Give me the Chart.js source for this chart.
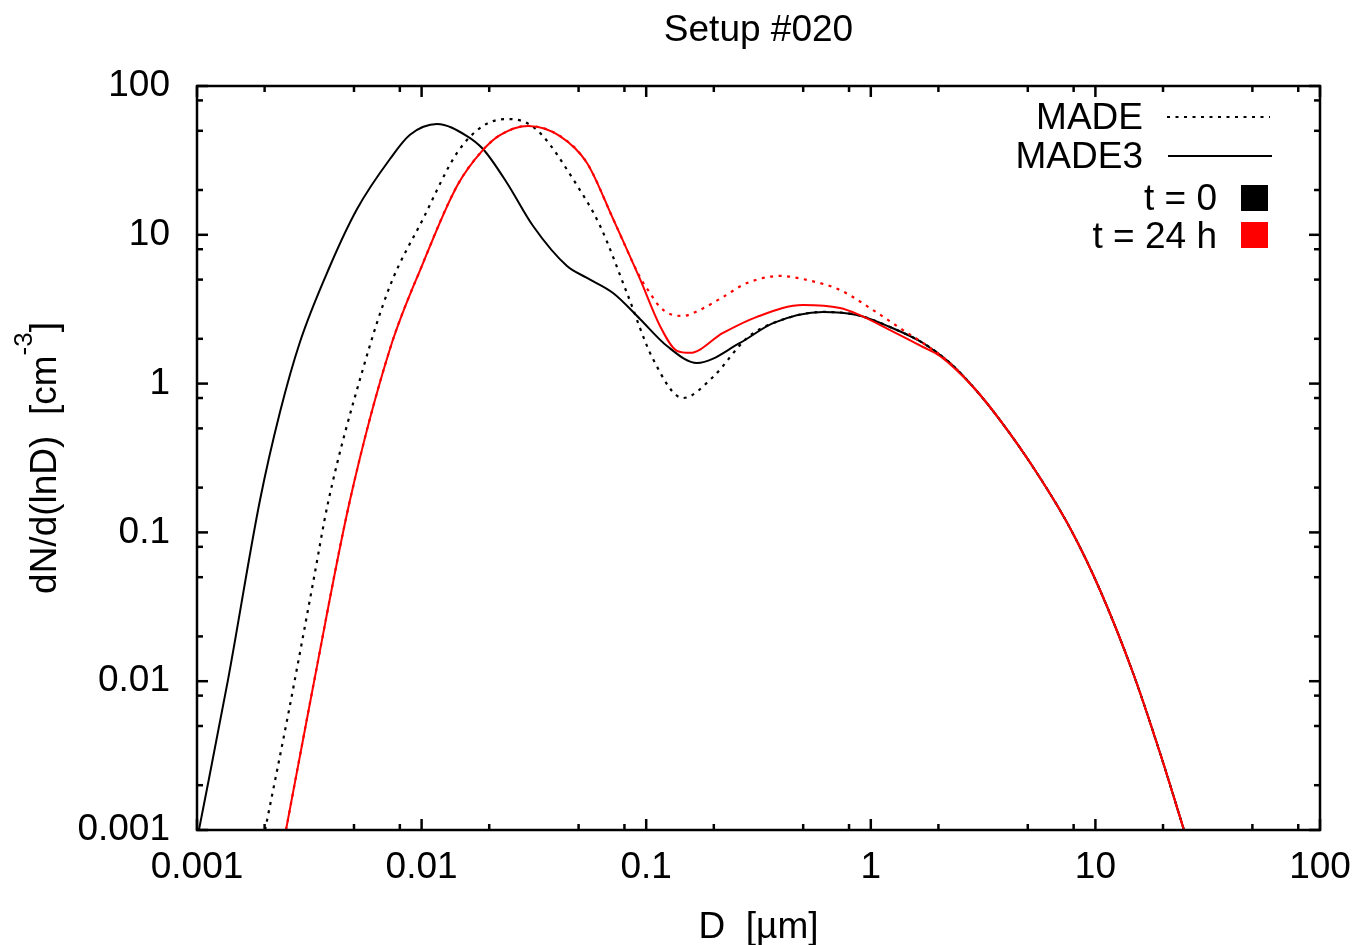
<!DOCTYPE html>
<html>
<head>
<meta charset="utf-8">
<script src="https://cdn.jsdelivr.net/npm/chart.js@4/dist/chart.umd.min.js"></script>
<style>
html,body{margin:0;padding:0;background:#fff;overflow:hidden}
#wrap{width:1362px;height:945px;position:relative}
</style>
</head>
<body>
<div id="wrap"><canvas id="c" width="1362" height="945"></canvas></div>
<script>
// ---- text ----
const titleText = 'Setup #020';
const xAxisTitle = 'D  [\u00b5m]';
const yAxisTitleMain = 'dN/d(lnD)  [cm';
const yAxisTitleSup = '-3';
const yAxisTitleEnd = ']';
const legendStyleLabels = ['MADE', 'MADE3'];
const legendColorLabels = ['t = 0', 't = 24 h'];

// ---- ticks ----
const xTickValues = [0.001, 0.01, 0.1, 1, 10, 100];
const xTickLabels = ['0.001', '0.01', '0.1', '1', '10', '100'];
const yTickValues = [0.001, 0.01, 0.1, 1, 10, 100];
const yTickLabels = ['0.001', '0.01', '0.1', '1', '10', '100'];
const minorMultipliers = [2, 5, 8];

// ---- series: MADE3, t = 0 (black solid) ----
const made3T0_D = [0.00102, 0.001374, 0.001908, 0.002342, 0.002874, 0.00391, 0.00516, 0.00723, 0.00888, 0.01171, 0.01592, 0.01877, 0.024, 0.0313, 0.0444, 0.0545, 0.0712, 0.0938, 0.1238, 0.1683, 0.2616, 0.367, 0.612, 0.868, 1.218, 1.708, 2.253, 2.91, 3.76, 5.275, 7.71, 10.48, 14.71, 19.4, 24.8];
const made3T0_N = [0.001, 0.0102, 0.165, 0.644, 1.905, 6.17, 14.9, 32.3, 47.0, 55.5, 46.1, 37.7, 22.3, 11.5, 6.17, 5.13, 4.06, 2.72, 1.79, 1.375, 1.875, 2.55, 3.03, 2.89, 2.40, 1.874, 1.375, 0.92, 0.569, 0.275, 0.107, 0.041, 0.01135, 0.00329, 0.001];

// ---- series: MADE3, t = 24 h (red solid) ----
const made3T24_D = [0.00249, 0.003285, 0.0048, 0.00723, 0.01015, 0.01438, 0.01877, 0.02234, 0.02977, 0.0413, 0.0545, 0.0712, 0.0938, 0.1152, 0.1371, 0.1567, 0.2198, 0.3113, 0.499, 0.729, 0.868, 1.218, 1.708, 2.03, 2.91, 3.76, 5.275, 7.71, 10.48, 14.71, 19.4, 24.8];
const made3T24_N = [0.001, 0.00914, 0.165, 1.71, 6.46, 21.3, 37.2, 46.8, 53.9, 46.1, 30.4, 12.8, 5.05, 2.44, 1.66, 1.61, 2.19, 2.81, 3.37, 3.22, 2.94, 2.29, 1.762, 1.533, 0.92, 0.569, 0.275, 0.107, 0.041, 0.01135, 0.00329, 0.001];

// ---- series: MADE, t = 0 (black dotted) ----
const madeT0_D = [0.00201, 0.002569, 0.003285, 0.003831, 0.00548, 0.00723, 0.01015, 0.01438, 0.01877, 0.024, 0.02946, 0.0347, 0.0472, 0.0623, 0.0821, 0.1072, 0.1459, 0.1983, 0.281, 0.367, 0.612, 0.868, 1.218, 1.708, 2.253, 2.91, 3.76, 5.275, 7.71, 10.48, 14.71, 19.4, 24.8];
const madeT0_N = [0.001, 0.0064, 0.0457, 0.158, 1.253, 4.53, 12.8, 35.5, 53.9, 60.0, 56.4, 46.1, 23.7, 11.5, 4.06, 1.464, 0.80, 1.108, 2.025, 2.55, 3.03, 2.89, 2.40, 1.874, 1.375, 0.92, 0.569, 0.275, 0.107, 0.041, 0.01135, 0.00329, 0.001];

// ---- series: MADE, t = 24 h (red dotted) ----
const madeT24_D = [0.00249, 0.003285, 0.0048, 0.00723, 0.01015, 0.01438, 0.01877, 0.02234, 0.02977, 0.0413, 0.0545, 0.0712, 0.0938, 0.104, 0.1152, 0.1316, 0.1459, 0.1736, 0.2198, 0.281, 0.394, 0.52, 0.729, 1.023, 1.391, 1.708, 2.253, 2.91, 3.76, 5.275, 7.71, 10.48, 14.71, 19.4, 24.8];
const madeT24_N = [0.001, 0.00914, 0.165, 1.71, 6.46, 21.3, 37.2, 46.8, 53.9, 46.1, 30.4, 12.8, 5.2, 4.06, 3.27, 2.89, 2.85, 3.13, 3.82, 4.74, 5.29, 4.97, 4.26, 3.12, 2.29, 1.874, 1.375, 0.92, 0.569, 0.275, 0.107, 0.041, 0.01135, 0.00329, 0.001];

const BLACK = '#000000';
const RED = '#ff0000';
const FONT = '"Liberation Sans", Arial, Helvetica, sans-serif';
const FS = 37;
const DOT = [3, 5.5];

function pts(D, N) { return D.map((d, i) => ({ x: d, y: N[i] })); }
function labelFor(values, labels, v) {
  for (let i = 0; i < values.length; i++) {
    if (Math.abs(Math.log10(v) - Math.log10(values[i])) < 1e-6) return labels[i];
  }
  return '';
}

Chart.defaults.font.family = FONT;
Chart.defaults.font.size = FS;
Chart.defaults.color = BLACK;

const decor = {
  id: 'decor',
  afterDatasetsDraw(chart) {
    const { ctx, chartArea: a, scales: { x, y } } = chart;
    ctx.save();
    ctx.strokeStyle = BLACK;
    ctx.lineWidth = 2.5;
    ctx.lineCap = 'butt';
    const seg = (x1, y1, x2, y2) => { ctx.beginPath(); ctx.moveTo(x1, y1); ctx.lineTo(x2, y2); ctx.stroke(); };
    const MAJ = 11, MIN = 6;
    const xt = (v, len) => { const p = x.getPixelForValue(v); seg(p, a.bottom, p, a.bottom - len); seg(p, a.top, p, a.top + len); };
    const yt = (v, len) => { const p = y.getPixelForValue(v); seg(a.left, p, a.left + len, p); seg(a.right, p, a.right - len, p); };
    xTickValues.forEach((v, i) => {
      xt(v, MAJ);
      if (i < xTickValues.length - 1) minorMultipliers.forEach(m => xt(v * m, MIN));
    });
    yTickValues.forEach((v, i) => {
      yt(v, MAJ);
      if (i < yTickValues.length - 1) minorMultipliers.forEach(m => yt(v * m, MIN));
    });
    ctx.strokeRect(a.left, a.top, a.right - a.left, a.bottom - a.top);

    // legend
    ctx.font = FS + 'px ' + FONT;
    ctx.fillStyle = BLACK;
    ctx.textAlign = 'right';
    ctx.textBaseline = 'middle';
    const r = a.right, t = a.top;
    ctx.fillText(legendStyleLabels[0], r - 177, t + 33);
    ctx.fillText(legendStyleLabels[1], r - 177, t + 72);
    ctx.lineWidth = 2;
    ctx.setLineDash(DOT);
    seg(r - 153, t + 31, r - 50, t + 31);
    ctx.setLineDash([]);
    seg(r - 152, t + 70, r - 48, t + 70);
    ctx.fillText(legendColorLabels[0], r - 103, t + 114);
    ctx.fillText(legendColorLabels[1], r - 103, t + 152);
    ctx.fillStyle = BLACK;
    ctx.fillRect(r - 79, t + 99, 27, 26);
    ctx.fillStyle = RED;
    ctx.fillRect(r - 79, t + 136, 27, 26);

    // y axis title with superscript
    ctx.fillStyle = BLACK;
    ctx.translate(56, (a.top + a.bottom) / 2);
    ctx.rotate(-Math.PI / 2);
    ctx.textBaseline = 'alphabetic';
    ctx.textAlign = 'left';
    const fMain = FS + 'px ' + FONT, fSup = '26px ' + FONT;
    ctx.font = fMain; const w1 = ctx.measureText(yAxisTitleMain).width; const w3 = ctx.measureText(yAxisTitleEnd).width;
    ctx.font = fSup; const w2 = ctx.measureText(yAxisTitleSup).width;
    let sx = -(w1 + w2 + w3) / 2;
    ctx.font = fMain; ctx.fillText(yAxisTitleMain, sx, 0); sx += w1;
    ctx.font = fSup; ctx.fillText(yAxisTitleSup, sx, -24); sx += w2;
    ctx.font = fMain; ctx.fillText(yAxisTitleEnd, sx, 0);
    ctx.restore();
  }
};

const common = { pointRadius: 0, fill: false, cubicInterpolationMode: 'monotone' };

new Chart(document.getElementById('c'), {
  type: 'line',
  data: {
    datasets: [
      Object.assign({ label: 'MADE t=24h', data: pts(madeT24_D, madeT24_N), borderColor: RED, borderWidth: 2.2, borderDash: DOT }, common),
      Object.assign({ label: 'MADE3 t=24h', data: pts(made3T24_D, made3T24_N), borderColor: RED, borderWidth: 2 }, common),
      Object.assign({ label: 'MADE t=0', data: pts(madeT0_D, madeT0_N), borderColor: BLACK, borderWidth: 2.2, borderDash: DOT }, common),
      Object.assign({ label: 'MADE3 t=0', data: pts(made3T0_D, made3T0_N), borderColor: BLACK, borderWidth: 2 }, common)
    ]
  },
  options: {
    responsive: false,
    animation: false,
    events: [],
    layout: { padding: { left: 0, right: 42, top: 0, bottom: 0 } },
    plugins: {
      legend: { display: false },
      tooltip: { enabled: false },
      title: {
        display: true, text: titleText, fullSize: false,
        font: { size: FS, weight: 'normal', family: FONT }, color: BLACK,
        padding: { top: 9, bottom: 32.6 }
      }
    },
    scales: {
      x: {
        type: 'logarithmic', min: 0.001, max: 100,
        grid: { display: false, drawTicks: false },
        border: { display: false },
        afterBuildTicks: s => { s.ticks = xTickValues.map(v => ({ value: v })); },
        afterFit: s => { s.height = 115; s.paddingLeft = 0; s.paddingRight = 0; },
        ticks: {
          autoSkip: false, maxRotation: 0, minRotation: 0, padding: 16, color: BLACK,
          font: { size: FS, family: FONT },
          callback: v => labelFor(xTickValues, xTickLabels, v)
        },
        title: { display: true, text: xAxisTitle, color: BLACK, font: { size: FS, family: FONT, lineHeight: 0.95 }, padding: 0 }
      },
      y: {
        type: 'logarithmic', min: 0.001, max: 100,
        grid: { display: false, drawTicks: false },
        border: { display: false },
        afterBuildTicks: s => { s.ticks = yTickValues.map(v => ({ value: v })); },
        afterFit: s => { s.width = 197; },
        ticks: {
          autoSkip: false, padding: 27, color: BLACK,
          font: { size: FS, family: FONT },
          callback: v => labelFor(yTickValues, yTickLabels, v)
        }
      }
    }
  },
  plugins: [decor]
});
</script>
</body>
</html>
